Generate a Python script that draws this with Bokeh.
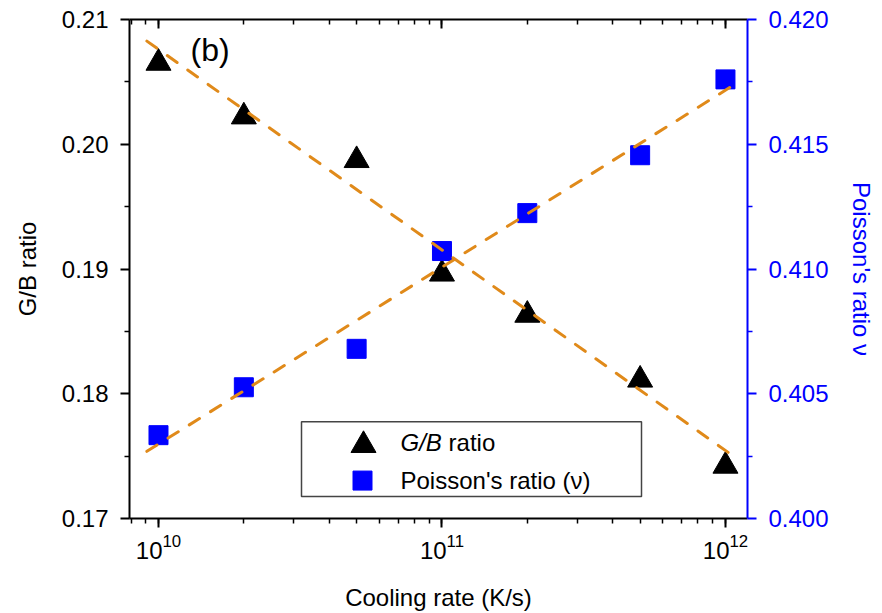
import math
import numpy as np
from bokeh.plotting import figure
from bokeh.models import (Range1d, LinearAxis, LogAxis, LogTicker, FixedTicker,
                          NumeralTickFormatter, Label, BoxAnnotation, ColumnDataSource,
                          CustomJSTickFormatter)
from bokeh.transform import dodge
from bokeh.embed import file_html
from bokeh.resources import INLINE

# ---------------- data ----------------
cooling_rate = [1e10, 2e10, 5e10, 1e11, 2e11, 5e11, 1e12]
gb_ratio = [0.2068, 0.2025, 0.1990, 0.1899, 0.1866, 0.1814, 0.1745]
poisson_ratio = [0.40334, 0.40526, 0.4068, 0.41072, 0.41224, 0.41456, 0.4176]
fit_x_span = [9.1e9, 1.08e12]

left_ticks = [0.17, 0.18, 0.19, 0.20, 0.21]
left_minor = [0.175, 0.185, 0.195, 0.205]
right_ticks = [0.400, 0.405, 0.410, 0.415, 0.420]
right_minor = [0.4025, 0.4075, 0.4125, 0.4175]

x_lo, x_hi = 7.902e9, 1.196e12
y_lo, y_hi = 0.17, 0.21
nu_lo, nu_hi = 0.400, 0.420

# ---------------- layout ----------------
W, H = 882, 613
FR_L, FR_R, FR_T, FR_B = 129, 747, 19, 519
FONT = "Liberation Sans"
ORANGE = "#E08A1A"
BLUE = "#0000FF"
LX0, LX1 = math.log10(x_lo), math.log10(x_hi)


def xd(px):
    return 10 ** (LX0 + (px - FR_L) / (FR_R - FR_L) * (LX1 - LX0))


def yd(py):
    return y_hi - (py - FR_T) / (FR_B - FR_T) * (y_hi - y_lo)


p = figure(width=W, height=H, x_axis_type="log",
           x_range=Range1d(x_lo, x_hi), y_range=Range1d(y_lo, y_hi),
           output_backend="svg", toolbar_location=None,
           min_border_left=FR_L, min_border_right=W - FR_R,
           min_border_top=FR_T, min_border_bottom=H - FR_B)
p.extra_y_ranges = {"nu": Range1d(nu_lo, nu_hi)}
p.grid.visible = False
p.outline_line_color = None
p.background_fill_color = "white"
p.border_fill_color = "white"

# bottom axis
xa = p.xaxis[0]
xa.ticker = LogTicker(num_minor_ticks=10)
xa.axis_line_width = 2
xa.major_tick_in = 0
xa.major_tick_out = 9
xa.minor_tick_in = 0
xa.minor_tick_out = 5
xa.major_tick_line_width = 2
xa.minor_tick_line_width = 1.5
xa.major_label_text_font = FONT
xa.major_label_text_font_size = "24px"
xa.major_label_text_color = "black"
xa.major_label_standoff = 6
xa.axis_label = "Cooling rate (K/s)"
xa.axis_label_text_font = FONT
xa.axis_label_text_font_size = "24px"
xa.axis_label_text_font_style = "normal"
xa.axis_label_text_color = "black"
xa.axis_label_standoff = 22

# top axis (mirror, ticks inside, no labels)
top = LogAxis(ticker=LogTicker(num_minor_ticks=10),
              formatter=CustomJSTickFormatter(code="return ''"))
top.axis_line_width = 2
top.major_tick_in = 9
top.major_tick_out = 0
top.minor_tick_in = 5
top.minor_tick_out = 0
top.major_tick_line_width = 2
top.minor_tick_line_width = 1.5
top.major_label_standoff = 0
p.add_layout(top, "above")

# left axis
ya = p.yaxis[0]
ya.ticker = FixedTicker(ticks=left_ticks, minor_ticks=left_minor)
ya.formatter = NumeralTickFormatter(format="0.00")
ya.axis_line_width = 2
ya.major_tick_in = 0
ya.major_tick_out = 9
ya.minor_tick_in = 0
ya.minor_tick_out = 5
ya.major_tick_line_width = 2
ya.minor_tick_line_width = 1.5
ya.major_label_text_font = FONT
ya.major_label_text_font_size = "24px"
ya.major_label_text_color = "black"
ya.major_label_standoff = 12
ya.axis_label = "G/B ratio"
ya.axis_label_text_font = FONT
ya.axis_label_text_font_size = "24px"
ya.axis_label_text_font_style = "normal"
ya.axis_label_text_color = "black"
ya.axis_label_standoff = 18

# right axis
ra = LinearAxis(y_range_name="nu",
                ticker=FixedTicker(ticks=right_ticks, minor_ticks=right_minor),
                formatter=NumeralTickFormatter(format="0.000"))
ra.axis_line_width = 2
ra.axis_line_color = BLUE
ra.major_tick_line_color = BLUE
ra.minor_tick_line_color = BLUE
ra.major_tick_in = 0
ra.major_tick_out = 9
ra.minor_tick_in = 0
ra.minor_tick_out = 5
ra.major_tick_line_width = 2
ra.minor_tick_line_width = 1.5
ra.major_label_text_font = FONT
ra.major_label_text_font_size = "24px"
ra.major_label_text_color = BLUE
ra.major_label_standoff = 12
ra.axis_label = "Poisson's ratio \u03bd"
ra.axis_label_text_font = FONT
ra.axis_label_text_font_size = "24px"
ra.axis_label_text_font_style = "normal"
ra.axis_label_text_color = BLUE
ra.axis_label_standoff = 16
p.add_layout(ra, "right")

# ---------------- data glyphs ----------------
src = ColumnDataSource(dict(x=cooling_rate, gb=gb_ratio, nu=poisson_ratio))
TRI = 25
tri_shift = -(TRI * math.sqrt(3) / 2 / 6) * (y_hi - y_lo) / (FR_B - FR_T)
p.scatter("x", dodge("gb", tri_shift, range=p.y_range), source=src, marker="triangle",
          size=TRI, fill_color="black", line_color="black")
p.scatter("x", "nu", source=src, y_range_name="nu", marker="square", size=19,
          fill_color=BLUE, line_color=BLUE)

# linear fits in log10(x)
lx = np.log10(cooling_rate)
fx = np.log10(fit_x_span)
k1, b1 = np.polyfit(lx, gb_ratio, 1)
k2, b2 = np.polyfit(lx, poisson_ratio, 1)
p.line(fit_x_span, list(k1 * fx + b1), line_color=ORANGE, line_width=3,
       line_dash="12 13", line_cap="round")
p.line(fit_x_span, list(k2 * fx + b2), y_range_name="nu", line_color=ORANGE, line_width=3,
       line_dash="12 13", line_cap="round")

# ---------------- legend (custom, to allow italic G/B) ----------------
box = BoxAnnotation(left=xd(301), right=xd(641), top=yd(422), bottom=yd(497),
                    fill_color="white", fill_alpha=1.0, line_color="#444444",
                    line_alpha=1.0, line_width=1.5, level="underlay")
p.add_layout(box)
p.scatter([xd(363)], [yd(442 + TRI * math.sqrt(3) / 2 / 6)], marker="triangle", size=TRI,
          fill_color="black", line_color="black")
p.scatter([xd(362)], [yd(481)], marker="square", size=19,
          fill_color=BLUE, line_color=BLUE)

LEG = "24px"
p.add_layout(Label(x=xd(400), y=yd(443), text="G/B", text_font=FONT, text_font_size=LEG,
                   text_color="black", text_font_style="italic",
                   text_baseline="middle", text_align="left"))
p.add_layout(Label(x=xd(400 + 48.1), y=yd(443), text="ratio", text_font=FONT,
                   text_color="black", text_font_size=LEG,
                   text_baseline="middle", text_align="left"))
p.add_layout(Label(x=xd(400), y=yd(481), text="Poisson's ratio (\u03bd)", text_font=FONT,
                   text_color="black", text_font_size=LEG,
                   text_baseline="middle", text_align="left"))

# panel label
p.add_layout(Label(x=xd(190), y=yd(50), text="(b)", text_font=FONT, text_font_size="32px",
                   text_color="black", text_baseline="middle", text_align="left"))

open("out.html", "w").write(file_html(p, INLINE))
